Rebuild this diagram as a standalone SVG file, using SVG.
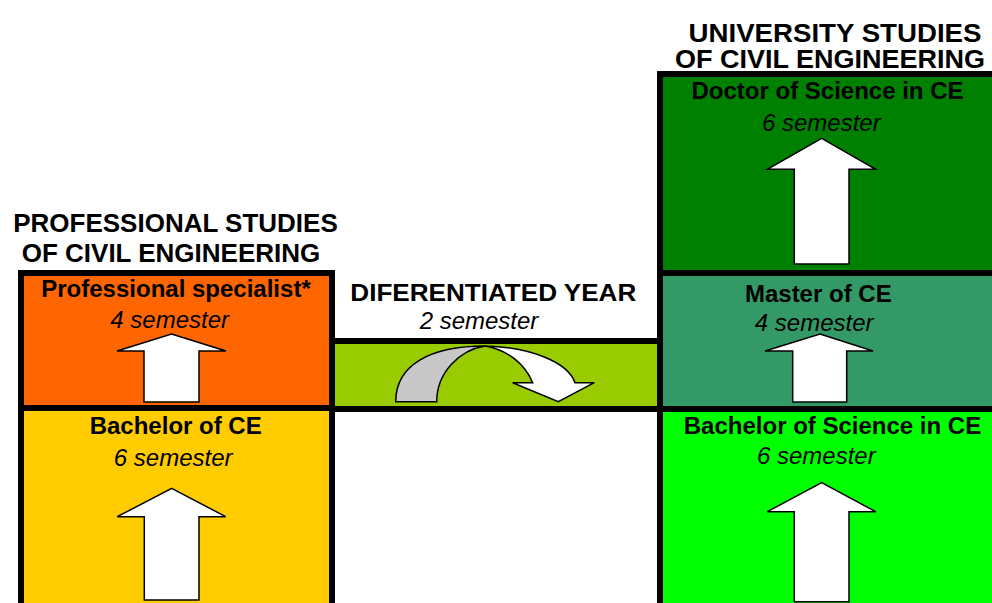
<svg xmlns="http://www.w3.org/2000/svg" width="992" height="603" viewBox="0 0 992 603">
<style>
.box{stroke:#000;stroke-width:6}
.arr{fill:#fff;stroke:#000;stroke-width:1.5;stroke-linejoin:miter}
.h{font-family:"Liberation Sans",Arial,sans-serif;font-weight:bold;fill:#000;text-anchor:middle}
.t{font-family:"Liberation Sans",Arial,sans-serif;font-weight:bold;font-size:24px;fill:#000;text-anchor:middle}
.s{font-family:"Liberation Sans",Arial,sans-serif;font-style:italic;font-size:24px;fill:#000;text-anchor:middle}
</style>
<rect width="992" height="603" fill="#fff"/>

<g id="professional-heading">
<text class="h" x="175.5" y="231.5" font-size="26">PROFESSIONAL STUDIES</text>
<text class="h" x="171" y="261.5" font-size="26">OF CIVIL ENGINEERING</text>
</g>
<g id="university-heading">
<text class="h" x="835" y="41.5" font-size="26" textLength="293" lengthAdjust="spacingAndGlyphs">UNIVERSITY STUDIES</text>
<text class="h" x="830" y="68.3" font-size="26" textLength="310" lengthAdjust="spacingAndGlyphs">OF CIVIL ENGINEERING</text>
</g>

<g id="diff-year">
<rect class="box" x="332" y="341" width="328" height="68" fill="#99CC00"/>
<text class="h" x="493.3" y="301" font-size="24" textLength="286" lengthAdjust="spacingAndGlyphs">DIFERENTIATED YEAR</text>
<text class="s" x="479" y="329.3" font-size="23">2 semester</text>
</g>

<g id="professional-specialist">
<rect class="box" x="21" y="273" width="311" height="135" fill="#FF6600"/>
<text class="t" x="176" y="297.3">Professional specialist*</text>
<text class="s" x="169.7" y="327.7">4 semester</text>
</g>
<g id="bachelor-ce">
<rect class="box" x="21" y="408" width="311" height="205" fill="#FFCC00"/>
<text class="t" x="175.7" y="434.3">Bachelor of CE</text>
<text class="s" x="173.2" y="466">6 semester</text>
</g>

<g id="doctor">
<rect class="box" x="660" y="74" width="340" height="199" fill="#008000"/>
<text class="t" x="827.5" y="99">Doctor of Science in CE</text>
<text class="s" x="821.3" y="131">6 semester</text>
</g>
<g id="master">
<rect class="box" x="660" y="273" width="340" height="136" fill="#339966"/>
<text class="t" x="818.3" y="301.7">Master of CE</text>
<text class="s" x="814.2" y="330.7">4 semester</text>
</g>
<g id="bachelor-science">
<rect class="box" x="660" y="409" width="340" height="205" fill="#00FF00"/>
<text class="t" x="832.5" y="434">Bachelor of Science in CE</text>
<text class="s" x="816.3" y="464">6 semester</text>
</g>

<g id="connectors">
<path class="arr" d="M171.5,334 L226,351 L199,351 L199,402 L144,402 L144,351 L117,351 Z"/>
<path class="arr" d="M171.7,488.3 L225.7,516.7 L199,516.7 L199,600 L144.3,600 L144.3,516.7 L117.3,516.7 Z"/>
<path class="arr" d="M821.7,138.3 L875.7,169.3 L849,169.3 L849,264 L794.3,264 L794.3,169.3 L767.3,169.3 Z"/>
<path class="arr" d="M820,334 L873,351 L846.7,351 L846.7,402 L792.7,402 L792.7,351 L765,351 Z"/>
<path class="arr" d="M821.7,482.7 L875.7,511.7 L849,511.7 L849,601.7 L794.3,601.7 L794.3,511.7 L767.3,511.7 Z"/>
<path d="M395.7,401.7 C395.7,365 430,346 485,346 C460,350 436.7,372 436.7,401.7 Z" fill="#C8C8C8" stroke="#000" stroke-width="1.5"/>
<path class="arr" d="M485,346 C530,347 568,362 575,382.7 L594.3,382.7 L558.3,401.7 L512.7,382.7 L532.7,382.7 C525,364 508,350 485,346 Z"/>
</g>
</svg>
